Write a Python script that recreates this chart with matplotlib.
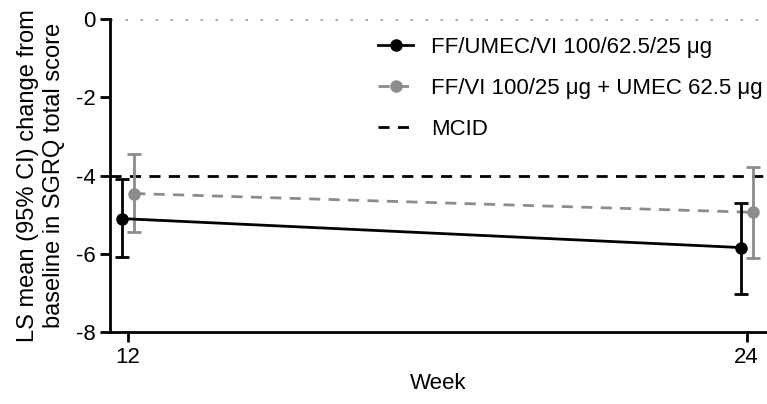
import matplotlib.pyplot as plt
from matplotlib.lines import Line2D
import numpy as np

weeks = [12, 24]
triple_mean = [-5.10, -5.84]
triple_lo = [-6.09, -7.02]
triple_hi = [-4.10, -4.70]
dual_mean = [-4.46, -4.94]
dual_lo = [-5.44, -6.10]
dual_hi = [-3.45, -3.78]
mcid = -4.0
labels = ['FF/UMEC/VI 100/62.5/25 \u03bcg',
          'FF/VI 100/25 \u03bcg + UMEC 62.5 \u03bcg',
          'MCID']

plt.rcParams['font.family'] = ['Liberation Sans', 'DejaVu Sans']

fig = plt.figure(figsize=(7.67, 4.04), dpi=100)
ax = fig.add_axes([0.1434, 0.178, 0.855, 0.775])

gray = '#8c8c8c'
off = 0.12
x = np.array(weeks, dtype=float)
dash = (0, (4, 3))

ax.axhline(0, color='#a0a0a0', linestyle=(0, (1, 5)), linewidth=1.8, zorder=1)
ax.axhline(mcid, color='black', linestyle=dash, linewidth=2, zorder=2)

tm = np.array(triple_mean)
ax.errorbar(x - off, tm, yerr=[tm - np.array(triple_lo), np.array(triple_hi) - tm],
            color='black', marker='o', markersize=8, linewidth=2, capsize=5,
            capthick=2, elinewidth=2, zorder=4)
dm = np.array(dual_mean)
ax.errorbar(x + off, dm, yerr=[dm - np.array(dual_lo), np.array(dual_hi) - dm],
            color=gray, marker='o', markersize=8, linewidth=2, capsize=5,
            capthick=2, elinewidth=2, linestyle=dash, zorder=3)

ax.set_xlim(11.65, 24.37)
ax.set_ylim(-8, 0)
ax.set_xticks(weeks)
ax.set_yticks([0, -2, -4, -6, -8])
ax.set_yticklabels(['0', '-2', '-4', '-6', '-8'])
ax.tick_params(axis='both', labelsize=16, width=2, length=7, direction='out')
ax.spines['top'].set_visible(False)
ax.spines['right'].set_visible(False)
ax.spines['left'].set_linewidth(2)
ax.spines['bottom'].set_linewidth(2)

ax.set_xlabel('Week', fontsize=16)
ax.set_ylabel('LS mean (95% CI) change from\nbaseline in SGRQ total score',
              fontsize=17, labelpad=8)

handles = [
    Line2D([], [], color='black', marker='o', markersize=8, linewidth=2),
    Line2D([], [], color=gray, marker='o', markersize=8, linewidth=2, linestyle=dash),
    Line2D([], [], color='black', linewidth=2, linestyle=dash),
]
ax.legend(handles, labels, loc='upper left', frameon=False, fontsize=16,
          bbox_to_anchor=(0.481, 0.93), bbox_transform=fig.transFigure,
          borderaxespad=0, handlelength=1.6, handletextpad=0.8, labelspacing=0.9)

fig.savefig('out.png', dpi=100)
